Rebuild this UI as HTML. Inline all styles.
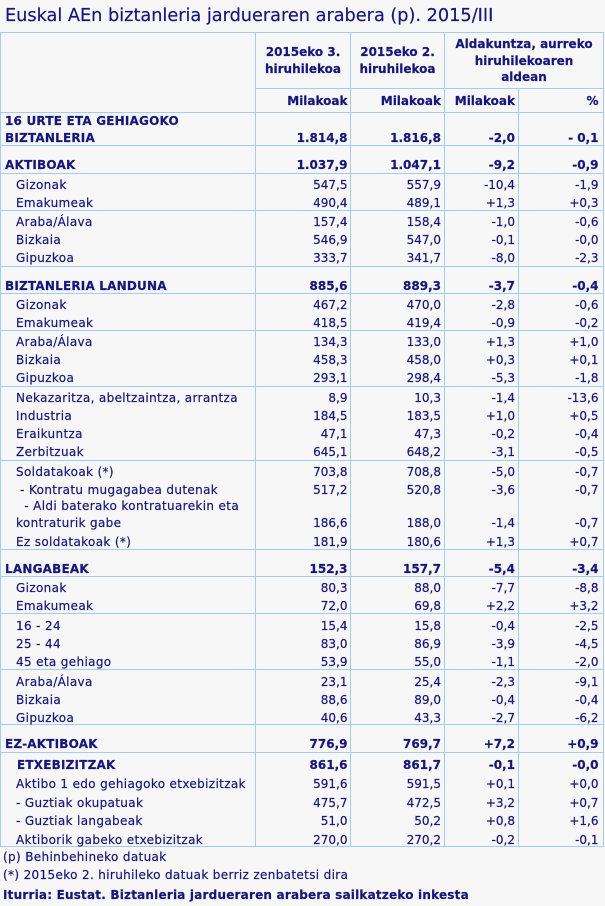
<!DOCTYPE html>
<html><head><meta charset="utf-8">
<style>
html,body{margin:0;padding:0;}
body{width:605px;height:906px;background:#f7f7f7;position:relative;overflow:hidden;
font-family:"DejaVu Sans","Liberation Sans",sans-serif;color:#17177a;font-size:12px;}
.h{position:absolute;height:1px;background:#a3cbf6;}
.v{position:absolute;width:1px;background:#a3cbf6;}
.t{position:absolute;white-space:nowrap;line-height:16px;height:16px;-webkit-text-stroke:0.2px #17177a;}
.l{left:16px;letter-spacing:0.35px;}
.lb{left:5px;font-weight:bold;letter-spacing:0.2px;}
.b{font-weight:bold;}
.c1{right:257.5px;}
.c2{right:164px;}
.c3{right:90px;}
.c4{right:6.5px;}
.hc{text-align:center;font-weight:bold;}
</style></head><body>
<div class="t" style="left:5px;top:6px;font-size:17.7px;line-height:20px;height:20px;">Euskal AEn biztanleria jardueraren arabera (p). 2015/III</div>

<!-- horizontal lines -->
<div class="h" style="left:0;width:604px;top:32px"></div>
<div class="h" style="left:255px;width:349px;top:88px"></div>
<div class="h" style="left:0;width:604px;top:112px"></div>
<div class="h" style="left:0;width:604px;top:145px"></div>
<div class="h" style="left:0;width:604px;top:173px"></div>
<div class="h" style="left:0;width:604px;top:210px"></div>
<div class="h" style="left:0;width:604px;top:266px"></div>
<div class="h" style="left:0;width:604px;top:293px"></div>
<div class="h" style="left:0;width:604px;top:330px"></div>
<div class="h" style="left:0;width:604px;top:386px"></div>
<div class="h" style="left:0;width:604px;top:460px"></div>
<div class="h" style="left:0;width:604px;top:549px"></div>
<div class="h" style="left:0;width:604px;top:576px"></div>
<div class="h" style="left:0;width:604px;top:613px"></div>
<div class="h" style="left:0;width:604px;top:669px"></div>
<div class="h" style="left:0;width:604px;top:724px"></div>
<div class="h" style="left:0;width:604px;top:752px"></div>
<div class="h" style="left:0;width:604px;top:846px"></div>
<!-- vertical lines -->
<div class="v" style="left:0;top:32px;height:815px"></div>
<div class="v" style="left:255px;top:32px;height:815px"></div>
<div class="v" style="left:350px;top:32px;height:815px"></div>
<div class="v" style="left:444px;top:32px;height:815px"></div>
<div class="v" style="left:518px;top:88px;height:759px"></div>
<div class="v" style="left:603px;top:32px;height:815px"></div>

<!-- header -->
<div class="t hc" style="left:255px;width:96px;top:44px">2015eko 3.</div>
<div class="t hc" style="left:255px;width:96px;top:61px">hiruhilekoa</div>
<div class="t hc" style="left:351px;width:93px;top:44px">2015eko 2.</div>
<div class="t hc" style="left:351px;width:93px;top:61px">hiruhilekoa</div>
<div class="t hc" style="left:445px;width:158px;top:36px">Aldakuntza, aurreko</div>
<div class="t hc" style="left:445px;width:158px;top:53px">hiruhilekoaren</div>
<div class="t hc" style="left:445px;width:158px;top:69px">aldean</div>
<div class="t b c1" style="top:93px">Milakoak</div>
<div class="t b c2" style="top:93px">Milakoak</div>
<div class="t b c3" style="top:93px">Milakoak</div>
<div class="t b c4" style="top:93px">%</div>

<!-- 16 URTE -->
<div class="t lb" style="top:113px">16 URTE ETA GEHIAGOKO</div>
<div class="t lb" style="top:130px">BIZTANLERIA</div>
<div class="t b c1" style="top:130px">1.814,8</div>
<div class="t b c2" style="top:130px">1.816,8</div>
<div class="t b c3" style="top:130px">-2,0</div>
<div class="t b c4" style="top:130px">- 0,1</div>

<!-- AKTIBOAK -->
<div class="t lb" style="top:157px">AKTIBOAK</div>
<div class="t b c1" style="top:157px">1.037,9</div>
<div class="t b c2" style="top:157px">1.047,1</div>
<div class="t b c3" style="top:157px">-9,2</div>
<div class="t b c4" style="top:157px">-0,9</div>

<div class="t l" style="top:177px">Gizonak</div>
<div class="t c1" style="top:177px">547,5</div><div class="t c2" style="top:177px">557,9</div><div class="t c3" style="top:177px">-10,4</div><div class="t c4" style="top:177px">-1,9</div>
<div class="t l" style="top:195px">Emakumeak</div>
<div class="t c1" style="top:195px">490,4</div><div class="t c2" style="top:195px">489,1</div><div class="t c3" style="top:195px">+1,3</div><div class="t c4" style="top:195px">+0,3</div>
<div class="t l" style="top:214px">Araba/Álava</div>
<div class="t c1" style="top:214px">157,4</div><div class="t c2" style="top:214px">158,4</div><div class="t c3" style="top:214px">-1,0</div><div class="t c4" style="top:214px">-0,6</div>
<div class="t l" style="top:232px">Bizkaia</div>
<div class="t c1" style="top:232px">546,9</div><div class="t c2" style="top:232px">547,0</div><div class="t c3" style="top:232px">-0,1</div><div class="t c4" style="top:232px">-0,0</div>
<div class="t l" style="top:250px">Gipuzkoa</div>
<div class="t c1" style="top:250px">333,7</div><div class="t c2" style="top:250px">341,7</div><div class="t c3" style="top:250px">-8,0</div><div class="t c4" style="top:250px">-2,3</div>

<!-- LANDUNA -->
<div class="t lb" style="top:278px">BIZTANLERIA LANDUNA</div>
<div class="t b c1" style="top:278px">885,6</div>
<div class="t b c2" style="top:278px">889,3</div>
<div class="t b c3" style="top:278px">-3,7</div>
<div class="t b c4" style="top:278px">-0,4</div>

<div class="t l" style="top:297px">Gizonak</div>
<div class="t c1" style="top:297px">467,2</div><div class="t c2" style="top:297px">470,0</div><div class="t c3" style="top:297px">-2,8</div><div class="t c4" style="top:297px">-0,6</div>
<div class="t l" style="top:315px">Emakumeak</div>
<div class="t c1" style="top:315px">418,5</div><div class="t c2" style="top:315px">419,4</div><div class="t c3" style="top:315px">-0,9</div><div class="t c4" style="top:315px">-0,2</div>
<div class="t l" style="top:334px">Araba/Álava</div>
<div class="t c1" style="top:334px">134,3</div><div class="t c2" style="top:334px">133,0</div><div class="t c3" style="top:334px">+1,3</div><div class="t c4" style="top:334px">+1,0</div>
<div class="t l" style="top:352px">Bizkaia</div>
<div class="t c1" style="top:352px">458,3</div><div class="t c2" style="top:352px">458,0</div><div class="t c3" style="top:352px">+0,3</div><div class="t c4" style="top:352px">+0,1</div>
<div class="t l" style="top:370px">Gipuzkoa</div>
<div class="t c1" style="top:370px">293,1</div><div class="t c2" style="top:370px">298,4</div><div class="t c3" style="top:370px">-5,3</div><div class="t c4" style="top:370px">-1,8</div>

<div class="t l" style="top:390px">Nekazaritza, abeltzaintza, arrantza</div>
<div class="t c1" style="top:390px">8,9</div><div class="t c2" style="top:390px">10,3</div><div class="t c3" style="top:390px">-1,4</div><div class="t c4" style="top:390px">-13,6</div>
<div class="t l" style="top:408px">Industria</div>
<div class="t c1" style="top:408px">184,5</div><div class="t c2" style="top:408px">183,5</div><div class="t c3" style="top:408px">+1,0</div><div class="t c4" style="top:408px">+0,5</div>
<div class="t l" style="top:426px">Eraikuntza</div>
<div class="t c1" style="top:426px">47,1</div><div class="t c2" style="top:426px">47,3</div><div class="t c3" style="top:426px">-0,2</div><div class="t c4" style="top:426px">-0,4</div>
<div class="t l" style="top:444px">Zerbitzuak</div>
<div class="t c1" style="top:444px">645,1</div><div class="t c2" style="top:444px">648,2</div><div class="t c3" style="top:444px">-3,1</div><div class="t c4" style="top:444px">-0,5</div>

<div class="t l" style="top:464px">Soldatakoak (*)</div>
<div class="t c1" style="top:464px">703,8</div><div class="t c2" style="top:464px">708,8</div><div class="t c3" style="top:464px">-5,0</div><div class="t c4" style="top:464px">-0,7</div>
<div class="t l" style="top:482px">&nbsp;- Kontratu mugagabea dutenak</div>
<div class="t c1" style="top:482px">517,2</div><div class="t c2" style="top:482px">520,8</div><div class="t c3" style="top:482px">-3,6</div><div class="t c4" style="top:482px">-0,7</div>
<div class="t l" style="top:498px">&nbsp;&nbsp;- Aldi baterako kontratuarekin eta</div>
<div class="t l" style="top:515px">kontraturik gabe</div>
<div class="t c1" style="top:515px">186,6</div><div class="t c2" style="top:515px">188,0</div><div class="t c3" style="top:515px">-1,4</div><div class="t c4" style="top:515px">-0,7</div>
<div class="t l" style="top:534px">Ez soldatakoak (*)</div>
<div class="t c1" style="top:534px">181,9</div><div class="t c2" style="top:534px">180,6</div><div class="t c3" style="top:534px">+1,3</div><div class="t c4" style="top:534px">+0,7</div>

<!-- LANGABEAK -->
<div class="t lb" style="top:561px">LANGABEAK</div>
<div class="t b c1" style="top:561px">152,3</div>
<div class="t b c2" style="top:561px">157,7</div>
<div class="t b c3" style="top:561px">-5,4</div>
<div class="t b c4" style="top:561px">-3,4</div>

<div class="t l" style="top:580px">Gizonak</div>
<div class="t c1" style="top:580px">80,3</div><div class="t c2" style="top:580px">88,0</div><div class="t c3" style="top:580px">-7,7</div><div class="t c4" style="top:580px">-8,8</div>
<div class="t l" style="top:598px">Emakumeak</div>
<div class="t c1" style="top:598px">72,0</div><div class="t c2" style="top:598px">69,8</div><div class="t c3" style="top:598px">+2,2</div><div class="t c4" style="top:598px">+3,2</div>
<div class="t l" style="top:618px">16 - 24</div>
<div class="t c1" style="top:618px">15,4</div><div class="t c2" style="top:618px">15,8</div><div class="t c3" style="top:618px">-0,4</div><div class="t c4" style="top:618px">-2,5</div>
<div class="t l" style="top:636px">25 - 44</div>
<div class="t c1" style="top:636px">83,0</div><div class="t c2" style="top:636px">86,9</div><div class="t c3" style="top:636px">-3,9</div><div class="t c4" style="top:636px">-4,5</div>
<div class="t l" style="top:654px">45 eta gehiago</div>
<div class="t c1" style="top:654px">53,9</div><div class="t c2" style="top:654px">55,0</div><div class="t c3" style="top:654px">-1,1</div><div class="t c4" style="top:654px">-2,0</div>
<div class="t l" style="top:674px">Araba/Álava</div>
<div class="t c1" style="top:674px">23,1</div><div class="t c2" style="top:674px">25,4</div><div class="t c3" style="top:674px">-2,3</div><div class="t c4" style="top:674px">-9,1</div>
<div class="t l" style="top:692px">Bizkaia</div>
<div class="t c1" style="top:692px">88,6</div><div class="t c2" style="top:692px">89,0</div><div class="t c3" style="top:692px">-0,4</div><div class="t c4" style="top:692px">-0,4</div>
<div class="t l" style="top:710px">Gipuzkoa</div>
<div class="t c1" style="top:710px">40,6</div><div class="t c2" style="top:710px">43,3</div><div class="t c3" style="top:710px">-2,7</div><div class="t c4" style="top:710px">-6,2</div>

<!-- EZ-AKTIBOAK -->
<div class="t lb" style="top:736px">EZ-AKTIBOAK</div>
<div class="t b c1" style="top:736px">776,9</div>
<div class="t b c2" style="top:736px">769,7</div>
<div class="t b c3" style="top:736px">+7,2</div>
<div class="t b c4" style="top:736px">+0,9</div>

<!-- ETXEBIZITZAK -->
<div class="t lb" style="left:17px;top:757px">ETXEBIZITZAK</div>
<div class="t b c1" style="top:757px">861,6</div>
<div class="t b c2" style="top:757px">861,7</div>
<div class="t b c3" style="top:757px">-0,1</div>
<div class="t b c4" style="top:757px">-0,0</div>
<div class="t l" style="top:776px">Aktibo 1 edo gehiagoko etxebizitzak</div>
<div class="t c1" style="top:776px">591,6</div><div class="t c2" style="top:776px">591,5</div><div class="t c3" style="top:776px">+0,1</div><div class="t c4" style="top:776px">+0,0</div>
<div class="t l" style="top:795px">- Guztiak okupatuak</div>
<div class="t c1" style="top:795px">475,7</div><div class="t c2" style="top:795px">472,5</div><div class="t c3" style="top:795px">+3,2</div><div class="t c4" style="top:795px">+0,7</div>
<div class="t l" style="top:813px">- Guztiak langabeak</div>
<div class="t c1" style="top:813px">51,0</div><div class="t c2" style="top:813px">50,2</div><div class="t c3" style="top:813px">+0,8</div><div class="t c4" style="top:813px">+1,6</div>
<div class="t l" style="top:832px">Aktiborik gabeko etxebizitzak</div>
<div class="t c1" style="top:832px">270,0</div><div class="t c2" style="top:832px">270,2</div><div class="t c3" style="top:832px">-0,2</div><div class="t c4" style="top:832px">-0,1</div>

<!-- footnotes -->
<div class="t l" style="left:3px;top:849px">(p) Behinbehineko datuak</div>
<div class="t l" style="left:3px;top:867px">(*) 2015eko 2. hiruhileko datuak berriz zenbatetsi dira</div>
<div class="t lb" style="left:3px;top:887px">Iturria: Eustat. Biztanleria jardueraren arabera sailkatzeko inkesta</div>
</body></html>
